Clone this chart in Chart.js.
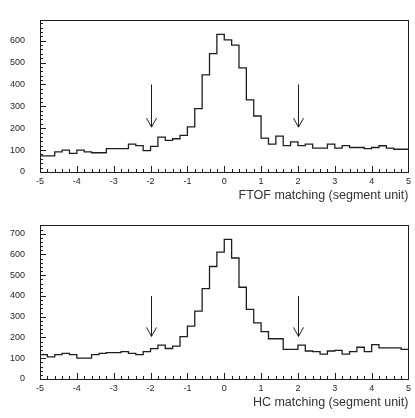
<!DOCTYPE html>
<html>
<head>
<meta charset="utf-8">
<script src="https://cdn.jsdelivr.net/npm/chart.js@4"></script>
<style>
  body { margin: 0; background: #fff; width: 415px; height: 418px; position: relative; overflow: hidden; }
  .plot { position: absolute; left: 0; width: 415px; }
  #ftof { top: 0; height: 205px; }
  #hc { top: 205px; height: 213px; }
</style>
</head>
<body>
<div class="plot" id="ftof"><canvas id="ftofChart"></canvas></div>
<div class="plot" id="hc"><canvas id="hcChart"></canvas></div>
<script>
// histogram binning, in segment units
const binStart = -5;
const binEnd = 5;
const binWidth = 0.2;

// FTOF matching, counts per bin
const ftofCounts = [74, 74, 92, 100, 85, 100, 92, 88, 88, 107,
                    107, 107, 127, 121, 98, 117, 159, 145, 152, 167,
                    206, 290, 444, 541, 629, 604, 580, 476, 330, 256,
                    155, 127, 164, 121, 138, 121, 127, 109, 109, 127,
                    109, 121, 112, 112, 107, 112, 120, 109, 104, 104];

// HC matching, counts per bin
const hcCounts = [117, 107, 117, 123, 117, 101, 101, 117, 123, 127,
                  127, 132, 123, 117, 132, 146, 163, 147, 158, 204,
                  255, 327, 435, 542, 611, 673, 583, 442, 335, 270,
                  228, 194, 194, 143, 143, 163, 135, 132, 120, 135,
                  138, 120, 132, 153, 132, 166, 150, 150, 150, 143];

const xTicks = [-5, -4, -3, -2, -1, 0, 1, 2, 3, 4, 5];
const ftofYTicks = [0, 100, 200, 300, 400, 500, 600];
const hcYTicks = [0, 100, 200, 300, 400, 500, 600, 700];
const ftofYMax = 693;
const hcYMax = 740;

// cut window marked with arrows
const cutPositions = [-2, 2];
const arrowTail = 400;
const arrowHead = 205;

const ink = '#1e1e1e';
const tickFont = { family: 'Liberation Sans', size: 9 };
const titleFont = { family: 'Liberation Sans', size: 12.5 };

function stepPoints(counts) {
  const pts = counts.map((c, i) => ({ x: binStart + i * binWidth, y: c }));
  pts.push({ x: binEnd, y: counts[counts.length - 1] });
  return pts;
}

// box around the plot, inward tick marks, cut arrows
const framePlugin = {
  id: 'frame',
  afterDatasetsDraw(chart) {
    const { ctx, chartArea: a, scales: { x, y } } = chart;
    ctx.save();
    ctx.strokeStyle = ink;
    ctx.lineWidth = 1;
    ctx.strokeRect(Math.round(a.left) + 0.5, Math.round(a.top) + 0.5,
                   Math.round(a.right - a.left), Math.round(a.bottom - a.top));
    ctx.beginPath();
    const nx = Math.round((binEnd - binStart) / binWidth);
    for (let i = 0; i <= nx; i++) {
      const px = Math.round(x.getPixelForValue(binStart + i * binWidth)) + 0.5;
      const len = i % 5 === 0 ? 6 : 3;
      ctx.moveTo(px, a.bottom);
      ctx.lineTo(px, a.bottom - len);
    }
    for (let v = 0; v <= y.max; v += 20) {
      const py = Math.round(y.getPixelForValue(v)) + 0.5;
      const len = v % 100 === 0 ? 6 : 3;
      ctx.moveTo(a.left, py);
      ctx.lineTo(a.left + len, py);
    }
    ctx.stroke();

    ctx.beginPath();
    cutPositions.forEach(c => {
      const px = Math.round(x.getPixelForValue(c)) + 0.5;
      const top = y.getPixelForValue(arrowTail);
      const tip = y.getPixelForValue(arrowHead);
      ctx.moveTo(px, top);
      ctx.lineTo(px, tip);
      ctx.moveTo(px - 5, tip - 9);
      ctx.lineTo(px, tip);
      ctx.lineTo(px + 5, tip - 9);
    });
    ctx.stroke();
    ctx.restore();
  }
};

function makeChart(id, counts, yTicks, yMax, title, opt) {
  return new Chart(document.getElementById(id), {
    type: 'line',
    data: {
      datasets: [{
        data: stepPoints(counts),
        stepped: true,
        borderColor: ink,
        borderWidth: 1.3,
        fill: false,
        pointRadius: 0
      }]
    },
    options: {
      responsive: true,
      maintainAspectRatio: false,
      animation: false,
      layout: { padding: { top: opt.top, right: 5, left: 0, bottom: 0 } },
      plugins: { legend: { display: false }, tooltip: { enabled: false } },
      scales: {
        x: {
          type: 'linear',
          min: binStart,
          max: binEnd,
          grid: { display: false, drawTicks: false },
          border: { display: false },
          afterBuildTicks: s => { s.ticks = xTicks.map(v => ({ value: v })); },
          afterFit: s => { s.height = opt.axisHeight; },
          ticks: { padding: 4, font: tickFont, color: ink, autoSkip: false, maxRotation: 0 },
          title: {
            display: true, text: title, align: 'end',
            font: titleFont, color: '#333',
            padding: { top: 0, bottom: opt.titlePad }
          }
        },
        y: {
          min: 0,
          max: yMax,
          grid: { display: false, drawTicks: false },
          border: { display: false },
          afterBuildTicks: s => { s.ticks = yTicks.map(v => ({ value: v })); },
          afterFit: s => { s.width = 40; },
          ticks: { padding: 15, font: tickFont, color: ink }
        }
      }
    },
    plugins: [framePlugin]
  });
}

makeChart('ftofChart', ftofCounts, ftofYTicks, ftofYMax, 'FTOF matching (segment unit)',
          { top: 10, axisHeight: 33, titlePad: 2 });
makeChart('hcChart', hcCounts, hcYTicks, hcYMax, 'HC matching (segment unit)',
          { top: 13, axisHeight: 39, titlePad: 8 });
</script>
</body>
</html>
